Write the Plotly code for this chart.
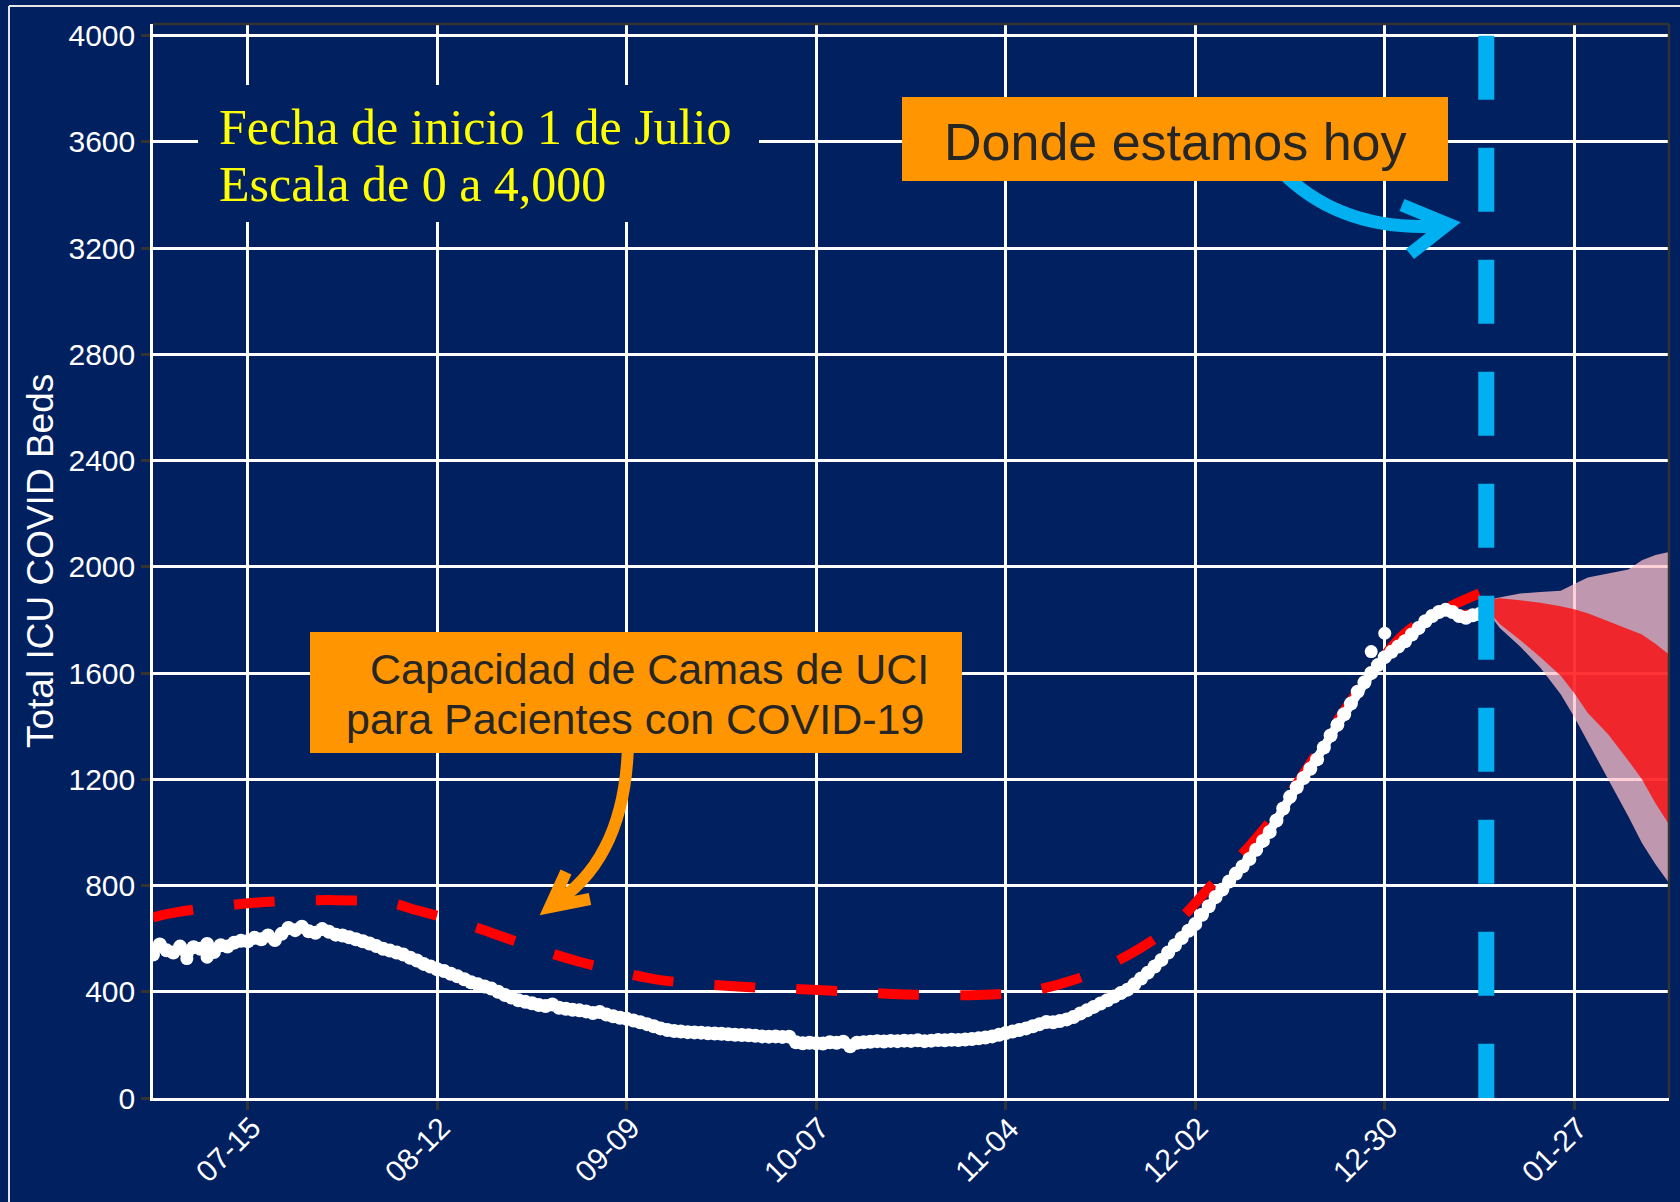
import plotly.graph_objects as go
import pandas as pd

# ---------------- data ----------------
inicio = "2020-07-01"
fin_eje = "2021-02-10"
fecha_hoy = "2021-01-14"

# daily observed ICU COVID beds, 2020-07-01 .. 2021-01-13
camas_uci = [
    540, 578, 556, 548, 570, 545, 568,
    562, 580, 550, 575, 570, 585, 592,
    590, 603, 598, 612, 595, 618, 640,
    632, 645, 628, 622, 636, 626, 615,
    612, 605, 598, 590, 582, 572, 562,
    555, 548, 540, 528, 518, 505, 495,
    485, 478, 468, 458, 447, 436, 428,
    420, 412, 400, 388, 378, 368, 362,
    357, 350, 346, 352, 340, 336, 332,
    330, 326, 320, 324, 314, 308, 302,
    298, 292, 285, 278, 270, 262, 256,
    252, 250, 248, 247, 246, 244, 243,
    242, 240, 238, 237, 236, 234, 232,
    231, 232, 230, 231, 210, 206, 208,
    206, 205, 210, 208, 212, 195, 208,
    210, 212, 214, 213, 215, 214, 216,
    215, 217, 214, 216, 218, 217, 219,
    218, 220, 222, 225, 228, 232, 238,
    245, 250, 256, 262, 270, 278, 286,
    285, 290, 296, 305, 318, 330, 343,
    356, 368, 382, 395, 408, 428, 450,
    472, 495, 520, 548, 575, 602, 630,
    655, 690, 722, 757, 785, 815, 845,
    872, 900, 935, 968, 1002, 1045, 1090,
    1134, 1170, 1205, 1240, 1275, 1320, 1365,
    1405, 1445, 1485, 1530, 1565, 1600, 1630,
    1660, 1680, 1700, 1720, 1745, 1770, 1795,
    1815, 1830, 1838, 1830, 1815, 1808, 1818, 1822,
]
fechas_obs = pd.date_range(inicio, periods=len(camas_uci), freq="D")

atipicos_fechas = ["2020-07-06", "2020-07-09", "2020-12-28", "2020-12-30"]
atipicos_valores = [525, 530, 1681, 1750]

# ICU bed capacity for COVID-19 patients (dashed red)
capacidad_fechas = ["2020-07-01", "2020-07-04", "2020-07-16", "2020-07-28", "2020-08-05",
                    "2020-08-09", "2020-08-15", "2020-08-21", "2020-08-27", "2020-09-02",
                    "2020-09-08", "2020-09-14", "2020-09-26", "2020-10-08", "2020-10-20",
                    "2020-11-02", "2020-11-08", "2020-11-14", "2020-11-20", "2020-11-25",
                    "2020-11-30", "2020-12-04", "2020-12-09", "2020-12-13", "2020-12-18",
                    "2020-12-23", "2020-12-28", "2021-01-02", "2021-01-07", "2021-01-13"]
capacidad_valores = [680, 697, 735, 745, 735, 707, 665, 613, 560, 513,
                     475, 444, 419, 406, 390, 390, 405, 444, 510, 582,
                     680, 790, 920, 1040, 1220, 1420, 1600, 1750, 1830, 1900]

# smooth model fit (thin red line under the points)
ajuste_fechas = ["2020-07-01", "2020-07-11", "2020-07-21", "2020-07-28", "2020-08-05",
                 "2020-08-12", "2020-08-19", "2020-08-26", "2020-09-02", "2020-09-09",
                 "2020-09-16", "2020-09-23", "2020-09-30", "2020-10-07", "2020-10-21",
                 "2020-10-28", "2020-11-04", "2020-11-11", "2020-11-18", "2020-11-25",
                 "2020-12-02", "2020-12-09", "2020-12-16", "2020-12-23", "2020-12-30",
                 "2021-01-06", "2021-01-13"]
ajuste_valores = [555, 580, 622, 618, 558, 488, 422, 360, 330, 298,
                  256, 242, 232, 212, 214, 220, 245, 283, 354, 470,
                  655, 870, 1134, 1405, 1660, 1810, 1835]

# forecast bands
pron_fechas = ["2021-01-13", "2021-01-16", "2021-01-19", "2021-01-22", "2021-01-25", "2021-01-27",
               "2021-01-29", "2021-02-01", "2021-02-04", "2021-02-06", "2021-02-08", "2021-02-10"]
banda_ext_sup = [1870, 1885, 1900, 1905, 1910, 1935, 1960, 1975, 1990, 2025, 2045, 2056]
banda_ext_inf = [1870, 1770, 1700, 1620, 1520, 1435, 1340, 1200, 1060, 960, 880, 810]
banda_int_sup = [1870, 1882, 1874, 1865, 1852, 1840, 1825, 1795, 1765, 1745, 1710, 1670]
banda_int_inf = [1870, 1785, 1725, 1660, 1590, 1525, 1450, 1370, 1270, 1200, 1110, 1030]

ticks_x = ["2020-07-15", "2020-08-12", "2020-09-09", "2020-10-07", "2020-11-04",
           "2020-12-02", "2020-12-30", "2021-01-27"]
ticks_x_texto = ["07-15", "08-12", "09-09", "10-07", "11-04", "12-02", "12-30", "01-27"]
ticks_y = [0, 400, 800, 1200, 1600, 2000, 2400, 2800, 3200, 3600, 4000]

# ---------------- style ----------------
NAVY = "#002060"
ORANGE = "#FF9500"
CYAN = "#00B0F0"
SANS = "Liberation Sans, Arial, sans-serif"
SERIF = "Liberation Serif, Times New Roman, serif"

W, H = 1680, 1202
L, R, T, B = 153, 1669, 24, 1098


def px(x, y):
    return (x - L) / (R - L), (B - y) / (B - T)


fig = go.Figure()

# outer band (pink)
fig.add_trace(go.Scatter(
    x=pron_fechas + pron_fechas[::-1], y=banda_ext_sup + banda_ext_inf[::-1],
    fill="toself", fillcolor="rgba(255,192,203,0.75)", line=dict(width=0),
    mode="lines", hoverinfo="skip"))
# inner band (red)
fig.add_trace(go.Scatter(
    x=pron_fechas + pron_fechas[::-1], y=banda_int_sup + banda_int_inf[::-1],
    fill="toself", fillcolor="rgba(255,0,0,0.75)", line=dict(width=0),
    mode="lines", hoverinfo="skip"))
# model fit
fig.add_trace(go.Scatter(
    x=ajuste_fechas, y=ajuste_valores, mode="lines",
    line=dict(color="#FF0000", width=3, shape="spline")))
# capacity
fig.add_trace(go.Scatter(
    x=capacidad_fechas, y=capacidad_valores, mode="lines",
    line=dict(color="#FF0000", width=10, dash="41px,41px", shape="spline")))
# observed
fig.add_trace(go.Scatter(
    x=fechas_obs, y=camas_uci, mode="lines+markers",
    line=dict(color="white", width=9),
    marker=dict(color="white", size=14, line=dict(width=0))))
fig.add_trace(go.Scatter(
    x=atipicos_fechas, y=atipicos_valores, mode="markers",
    marker=dict(color="white", size=13, line=dict(width=0))))
# today line
fig.add_trace(go.Scatter(
    x=[fecha_hoy, fecha_hoy], y=[ticks_y[-1], ticks_y[0]], mode="lines",
    line=dict(color=CYAN, width=16, dash="64px,48px")))

axis_common = dict(
    showgrid=True, gridcolor="white", gridwidth=2.5,
    zeroline=False, showline=True, linecolor="white", linewidth=2.5,
    ticks="outside", ticklen=9, tickwidth=3, tickcolor="#333333",
    tickfont=dict(family=SANS, size=30, color="white"),
)

fig.update_layout(
    width=W, height=H,
    paper_bgcolor=NAVY, plot_bgcolor=NAVY,
    margin=dict(l=L, r=W - R, t=T, b=H - B, autoexpand=False),
    showlegend=False,
    xaxis=dict(type="date", range=[inicio, fin_eje], tickvals=ticks_x,
               showticklabels=False, **axis_common),
    yaxis=dict(range=[0, 4044], tickvals=ticks_y, ticklabelstandoff=0, **axis_common),
)

shapes = []
# outer frame (left + top)
x0, y0 = px(9, 6)
x1, y1 = px(W + 5, H + 5)
shapes.append(dict(type="line", xref="paper", yref="paper", x0=x0, y0=y0, x1=x0, y1=y1,
                   line=dict(color="#E6E6E6", width=2)))
shapes.append(dict(type="line", xref="paper", yref="paper", x0=x0, y0=y0, x1=x1, y1=y0,
                   line=dict(color="#E6E6E6", width=2)))
# panel border top/right
shapes.append(dict(type="line", xref="paper", yref="paper", x0=0, y0=1, x1=1, y1=1,
                   line=dict(color="#333333", width=2.5)))
shapes.append(dict(type="line", xref="paper", yref="paper", x0=1, y0=0, x1=1, y1=1,
                   line=dict(color="#333333", width=2.5)))


def path_q(p0, c, p1):
    a, b, d = px(*p0), px(*c), px(*p1)
    return f"M {a[0]},{a[1]} Q {b[0]},{b[1]} {d[0]},{d[1]}"


def path_v(p0, tip, p1):
    a, b, d = px(*p0), px(*tip), px(*p1)
    return f"M {a[0]},{a[1]} L {b[0]},{b[1]} L {d[0]},{d[1]}"


# blue arrow
shapes.append(dict(type="path", xref="paper", yref="paper", layer="above",
                   path=path_q((1280, 170), (1340, 232), (1440, 226)),
                   line=dict(color=CYAN, width=13)))
shapes.append(dict(type="path", xref="paper", yref="paper", layer="above",
                   path=path_v((1402, 205), (1448, 224), (1410, 254)),
                   line=dict(color=CYAN, width=13)))
# orange arrow
shapes.append(dict(type="path", xref="paper", yref="paper", layer="above",
                   path=path_q((628, 745), (625, 860), (552, 905)),
                   line=dict(color=ORANGE, width=12)))
shapes.append(dict(type="path", xref="paper", yref="paper", layer="above",
                   path=path_v((566, 872), (550, 907), (590, 899)),
                   line=dict(color=ORANGE, width=12)))

# boxes
bx0, by0 = px(198, 85)
bx1, by1 = px(759, 222)
shapes.append(dict(type="rect", xref="paper", yref="paper", layer="above",
                   x0=bx0, y0=by0, x1=bx1, y1=by1, fillcolor=NAVY, line=dict(width=0)))
bx0, by0 = px(902, 97)
bx1, by1 = px(1448, 181)
shapes.append(dict(type="rect", xref="paper", yref="paper", layer="above",
                   x0=bx0, y0=by0, x1=bx1, y1=by1, fillcolor=ORANGE, line=dict(width=0)))
bx0, by0 = px(310, 632)
bx1, by1 = px(962, 753)
shapes.append(dict(type="rect", xref="paper", yref="paper", layer="above",
                   x0=bx0, y0=by0, x1=bx1, y1=by1, fillcolor=ORANGE, line=dict(width=0)))

annotations = []


def txt(text, x, y, size, color, family, xanchor="center", angle=0):
    ax, ay = px(x, y)
    annotations.append(dict(text=text, x=ax, y=ay, xref="paper", yref="paper",
                            xanchor=xanchor, yanchor="middle", showarrow=False,
                            textangle=angle,
                            font=dict(size=size, color=color, family=family)))


txt("Total ICU COVID Beds", 40, 561, 37, "white", SANS, angle=-90)
txt("Fecha de inicio 1 de Julio", 217, 127, 50, "#FFFF00", SERIF, xanchor="left")
txt("Escala de 0 a 4,000", 217, 184, 50, "#FFFF00", SERIF, xanchor="left")
txt("Donde estamos hoy", 1175, 142, 52, "#262626", SANS)
txt("Capacidad de Camas de UCI", 649, 669, 43, "#262626", SANS)
txt("para Pacientes con COVID-19", 635, 719, 43, "#262626", SANS)

# rotated x tick labels
_, y_lab = px(0, 1108)
for fecha, etiqueta in zip(ticks_x, ticks_x_texto):
    annotations.append(dict(text=etiqueta, x=fecha, xref="x", y=y_lab, yref="paper",
                            xanchor="right", yanchor="top", xshift=22, textangle=-45,
                            showarrow=False,
                            font=dict(family=SANS, size=30, color="white")))

fig.update_layout(shapes=shapes, annotations=annotations)

fig.write_html("out.html", config={"displayModeBar": False},
               post_script="document.body.style.margin='0';")
